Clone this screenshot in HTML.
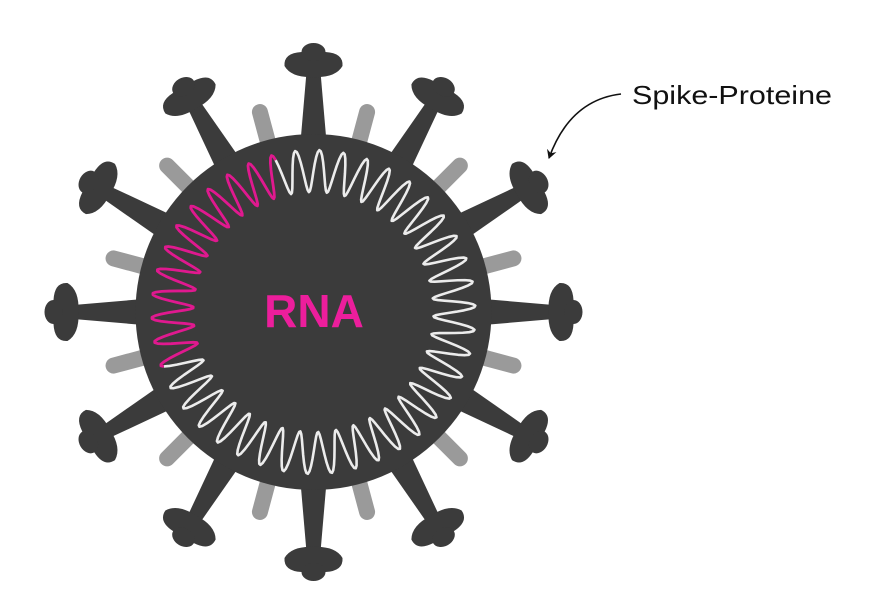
<!DOCTYPE html>
<html><head><meta charset="utf-8"><style>
html,body{margin:0;padding:0;background:#fff;width:873px;height:603px;overflow:hidden}
</style></head><body>
<svg id="s" width="873" height="603" viewBox="0 0 873 603" xmlns="http://www.w3.org/2000/svg">
<defs>
<marker id="ah" markerWidth="10" markerHeight="10" refX="8" refY="5" orient="auto" markerUnits="userSpaceOnUse">
<path d="M0,0 L9,5 L0,10 L3,5 Z" fill="#111"/>
</marker>
</defs>
<g id="stubs"></g>
<g id="spikes"></g>
<circle cx="313.5" cy="312" r="178" fill="#3b3b3b"/>
<path id="wWhite" fill="none" stroke="#ececec" stroke-width="2.6" stroke-linejoin="round"/>
<path id="wPink" fill="none" stroke="#e0198f" stroke-width="2.8" stroke-linejoin="round"/>
<text x="314" y="327" text-anchor="middle" font-family="Liberation Sans, sans-serif" font-weight="bold" font-size="46" fill="#ec1e9c">RNA</text>
<text x="632" y="104" font-family="Liberation Sans, sans-serif" font-size="26" fill="#111" textLength="200" lengthAdjust="spacingAndGlyphs">Spike-Proteine</text>
<path d="M621,94 Q570,100 549,158" fill="none" stroke="#111" stroke-width="1.6" marker-end="url(#ah)"/>
</svg>
<script>
var cx=313.5,cy=312,NS="http://www.w3.org/2000/svg";
var sp=document.getElementById('spikes'),st=document.getElementById('stubs');
for(var i=0;i<12;i++){
  var a=i*30;
  var g=document.createElementNS(NS,'g');
  g.setAttribute('transform','translate('+cx+','+cy+') rotate('+a+')');
  g.innerHTML='<path d="M-13,-170 L13,-170 L7,-240 L-7,-240 Z" fill="#3b3b3b"/>'+
  '<path d="M-29,-246 Q-30,-259 -12,-260 L12,-260 Q30,-259 29,-246 Q22,-234 0,-235 Q-22,-234 -29,-246 Z" fill="#3b3b3b"/>'+
  '<ellipse cx="0" cy="-260" rx="12" ry="9" fill="#3b3b3b"/>';
  sp.appendChild(g);
  var g2=document.createElementNS(NS,'g');
  g2.setAttribute('transform','translate('+cx+','+cy+') rotate('+(a+15)+')');
  g2.innerHTML='<line x1="0" y1="-170" x2="0" y2="-207" stroke="#9a9a9a" stroke-width="16" stroke-linecap="round"/>';
  st.appendChild(g2);
}
var N=42;
function wave(a0,a1){
  var d='',steps=Math.ceil((a1-a0)/360*N*16);
  for(var k=0;k<=steps;k++){
    var t=a0+(a1-a0)*k/steps,rad=t*Math.PI/180;
    var r=141+21*Math.sin(N*rad);
    var x=cx+r*Math.cos(rad),y=cy-r*Math.sin(rad);
    d+=(k?'L':'M')+x.toFixed(2)+','+y.toFixed(2);
  }
  return d;
}
document.getElementById('wPink').setAttribute('d',wave(104,200));
document.getElementById('wWhite').setAttribute('d',wave(200,464));
</script>
</body></html>
